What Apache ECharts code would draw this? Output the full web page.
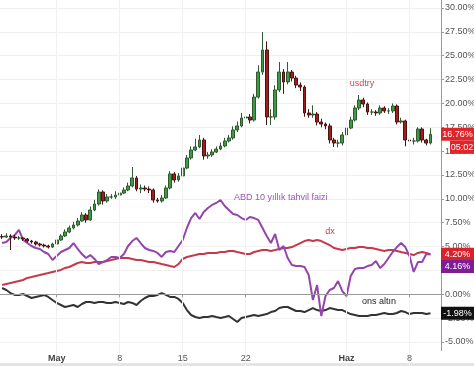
<!DOCTYPE html>
<html><head><meta charset="utf-8">
<script src="https://cdn.jsdelivr.net/npm/echarts@6/dist/echarts.min.js"></script>
<style>html,body{margin:0;padding:0;background:#fff;overflow:hidden}#c{width:474px;height:366px}</style>
</head><body><div id="c"></div>
<script>
// usdtry candles (% change), one bar per third of a trading day
const usdtryClose = [6.00,6.11,6.00,5.90,5.90,5.79,5.58,5.48,5.27,5.16,
 5.06,4.95,5.27,5.69,6.11,6.53,6.95,7.26,7.68,8.31,
 7.79,8.83,9.46,10.72,9.78,10.20,10.20,10.40,10.61,10.93,
 11.35,12.19,11.03,11.14,11.03,10.93,9.88,9.78,10.09,11.14,
 12.61,11.98,12.40,13.23,14.28,15.12,15.44,16.17,14.49,14.60,
 14.91,15.22,15.54,16.06,16.38,17.22,17.64,18.47,18.58,18.26,
 20.67,23.29,25.60,18.58,18.58,21.41,23.29,22.25,23.29,22.66,
 21.93,21.72,19.00,18.79,18.89,18.05,17.84,17.64,16.17,15.85,
 15.85,16.69,17.42,18.26,19.52,20.36,19.94,19.10,19.10,19.00,
 19.52,19.21,19.21,19.73,18.05,18.16,16.17,16.06,16.06,17.32,
 16.17,15.85,16.76];
const usdtryFirstOpen = 6.05;
const usdtryHigh = [6.3,6.4,6.3,6.2,6.1,6.0,5.9,5.7,5.6,5.4,
 5.3,5.2,5.4,5.9,6.3,6.8,7.2,7.6,8.0,8.6,
 8.5,9.2,9.9,11.0,10.9,10.5,10.5,10.8,10.9,11.2,
 11.7,13.34,12.4,11.5,11.4,11.3,11.1,10.1,10.4,11.4,
 12.9,12.8,12.7,13.5,14.6,15.5,16.3,16.69,16.4,14.9,
 15.2,15.5,15.9,16.4,16.7,17.6,18.1,19.0,19.0,18.9,
 21.0,24.0,27.48,26.5,19.4,21.9,24.34,23.6,24.34,23.5,
 22.9,22.2,21.9,19.4,19.8,19.1,18.4,18.0,17.9,16.4,
 16.2,17.0,17.6,18.6,19.8,20.88,20.6,20.1,19.4,19.3,
 19.8,19.7,19.5,20.0,19.9,18.5,18.3,16.4,16.4,17.5,
 17.5,16.3,17.4];
const usdtryLow = [5.8,5.9,4.64,5.7,5.7,5.6,5.4,5.3,5.1,5.0,
 4.9,4.8,4.85,5.2,5.6,6.0,6.4,6.8,7.1,7.6,
 7.5,7.7,8.7,9.3,9.4,9.6,10.0,10.0,10.3,10.5,
 10.8,11.2,10.8,10.6,10.8,10.6,9.6,9.6,9.6,10.0,
 11.0,11.7,11.8,12.3,13.1,14.1,15.0,15.3,14.1,14.2,
 14.4,14.8,15.1,15.4,15.9,16.2,17.0,17.5,18.2,17.9,
 18.1,20.5,23.0,17.74,17.74,18.3,21.2,21.0,22.0,22.3,
 21.6,21.3,18.6,18.5,18.5,17.7,17.5,17.3,15.8,15.44,
 15.4,15.6,16.5,17.3,18.1,19.3,19.6,18.8,18.8,18.7,
 18.8,19.0,18.9,19.0,17.8,17.9,15.5,15.6,15.7,15.9,
 15.9,15.6,15.7];
// ABD 10 yıllık tahvil faizi
const bondYield = [5.37,5.48,5.90,6.21,6.74,5.69,5.37,5.06,4.85,4.75,
 4.43,4.22,3.59,4.01,4.43,4.64,4.85,5.37,4.75,4.22,
 3.80,4.11,3.70,3.17,3.38,3.59,3.91,3.91,3.80,4.22,
 5.06,5.58,5.90,5.37,4.85,4.64,4.54,4.33,3.91,4.43,
 4.54,4.43,5.06,5.69,6.95,7.99,8.52,7.89,8.62,9.04,
 9.36,9.57,9.88,9.25,8.83,8.41,8.31,7.99,7.79,8.10,
 7.99,7.79,6.95,6.11,5.37,6.32,4.64,5.06,3.80,3.07,
 2.96,2.96,2.86,2.02,-0.60,0.97,-2.28,-0.18,0.45,0.66,
 1.39,0.34,-0.18,1.92,2.65,2.75,2.75,2.96,3.07,3.49,
 2.75,3.17,3.80,4.43,4.95,5.37,4.95,4.01,2.34,3.38,
 3.38,4.22,4.16];
// dx
const dxIndex = [0.97,1.08,1.18,1.29,1.39,1.50,1.71,1.81,1.92,2.02,
 2.13,2.23,2.34,2.44,2.55,2.76,2.86,3.07,3.28,3.38,
 3.28,3.28,3.38,3.38,3.38,3.49,3.59,3.70,3.80,3.80,
 3.80,3.70,3.59,3.59,3.49,3.38,3.38,3.28,3.17,3.07,
 2.96,2.86,3.17,3.70,3.91,4.01,4.11,4.22,4.22,4.33,
 4.33,4.33,4.43,4.43,4.54,4.54,4.43,4.33,4.22,4.22,
 4.43,4.54,4.64,4.64,4.54,4.64,4.75,4.85,4.85,4.95,
 5.16,5.37,5.58,5.69,5.58,5.69,5.58,5.37,5.16,4.85,
 4.75,4.64,4.75,4.85,4.85,4.95,4.95,4.85,4.85,4.75,
 4.64,4.54,4.64,4.64,4.54,4.43,4.33,4.22,4.11,4.33,
 4.43,4.33,4.20];
// ons altın
const goldOunce = [0.66,0.45,0.13,-0.07,-0.07,0.03,-0.18,-0.39,-0.28,-0.18,
 -0.07,-0.28,-0.60,-0.91,-1.12,-1.33,-1.23,-1.12,-1.33,-1.02,
 -0.81,-0.81,-0.91,-0.81,-0.81,-0.91,-0.91,-0.81,-0.91,-1.02,
 -0.81,-0.91,-1.12,-0.70,-0.39,-0.18,-0.18,-0.07,0.13,-0.07,
 -0.28,-0.28,-0.49,-0.91,-1.65,-2.17,-2.38,-2.48,-2.38,-2.38,
 -2.27,-2.38,-2.48,-2.38,-2.27,-2.59,-2.90,-2.48,-2.38,-2.27,
 -2.17,-2.27,-2.17,-2.07,-1.86,-1.75,-1.44,-1.33,-1.33,-1.54,
 -1.75,-1.75,-1.86,-1.65,-1.44,-1.65,-1.75,-1.65,-1.44,-1.54,
 -1.65,-1.65,-1.86,-2.07,-2.17,-2.27,-2.27,-2.27,-2.17,-2.17,
 -2.07,-1.96,-2.07,-2.07,-1.96,-1.75,-1.86,-2.07,-1.96,-1.96,
 -1.96,-2.07,-1.98];
const barCount = 105;
const xTickLabels = {13:'May', 28:'8', 43:'15', 58:'22', 82:'Haz', 97:'8'};
const boldLabels = ['May','Haz'];
const yMin = -7.5, yMax = 32.5, yStep = 2.5;
const lastValues = {usdtry:'16.76%', timer:'05:02', dx:'4.20%', bond:'4.16%', gold:'-1.98%'};

const categories = Array.from({length: barCount}, (_, i) => String(i));
const usdtryOpen = [usdtryFirstOpen].concat(usdtryClose.slice(0, -1));
const candles = usdtryClose.map((c, i) => [usdtryOpen[i], c, usdtryLow[i], usdtryHigh[i]]);
const FONT = 'Liberation Sans, Arial, sans-serif';
const isTick = (i) => xTickLabels.hasOwnProperty(i);

const chart = echarts.init(document.getElementById('c'), null, {renderer: 'canvas'});
chart.setOption({
  animation: false,
  backgroundColor: '#fff',
  grid: {left: 0, right: 33, top: -15.86, bottom: 0.14, containLabel: false, outerBoundsMode: 'none'},
  xAxis: {
    type: 'category', data: categories, boundaryGap: true, offset: -16, z: 60,
    axisLine: {lineStyle: {color: '#9a9a9a'}},
    axisTick: {show: true, interval: (i) => isTick(i), alignWithLabel: true, length: 3, lineStyle: {color: '#9a9a9a'}},
    axisLabel: {
      interval: (i) => isTick(i), margin: 4, color: '#555', fontSize: 9, fontFamily: FONT,
      formatter: (v, i) => { const t = xTickLabels[+v]; return boldLabels.includes(t) ? '{b|' + t + '}' : t; },
      rich: {b: {fontWeight: 'bold', fontSize: 9, color: '#444', fontFamily: FONT}}
    },
    splitLine: {show: true, interval: (i) => isTick(i), alignWithLabel: true, lineStyle: {color: '#f0f0f0'}}
  },
  yAxis: {
    type: 'value', position: 'right', min: yMin, max: yMax, interval: yStep,
    axisLine: {show: true, lineStyle: {color: '#9a9a9a'}},
    axisTick: {show: true, length: 3, lineStyle: {color: '#9a9a9a'}},
    axisLabel: {color: '#555', fontSize: 9, fontFamily: FONT, margin: 4, formatter: (v) => v.toFixed(2) + '%'},
    splitLine: {lineStyle: {color: '#f0f0f0'}}
  },
  series: [
    {type: 'line', name: 'ons altın', data: goldOunce, symbol: 'none', lineStyle: {color: '#333', width: 2}, z: 3},
    {type: 'line', name: 'dx', data: dxIndex, symbol: 'none', lineStyle: {color: '#c43a4a', width: 2}, z: 3},
    {type: 'line', name: 'ABD 10 yıllık tahvil faizi', data: bondYield, symbol: 'none', lineStyle: {color: '#9345aa', width: 2}, z: 4},
    {type: 'candlestick', name: 'usdtry', data: candles, barWidth: '80%',
     itemStyle: {color: '#3f9a45', color0: '#a31d1d', borderColor: '#2f5a2f', borderColor0: '#4a1414', borderWidth: 1}, z: 5}
  ]
});

const py = (v) => chart.convertToPixel({yAxisIndex: 0}, v);
const box = (y, w, color, text) => ({
  type: 'group', z: 100, children: [
    {type: 'rect', shape: {x: 474 - w, y: y - 6.5, width: w, height: 13}, style: {fill: color}, z: 100},
    {type: 'text', x: 474 - w / 2, y: y, style: {text: text, fill: '#fff', font: '9px ' + FONT, textAlign: 'center', textVerticalAlign: 'middle'}, z: 101}
  ]
});
const yUsd = py(parseFloat(lastValues.usdtry));
const yDx = py(parseFloat(lastValues.dx));
const yBond = py(parseFloat(lastValues.bond));
const yGold = py(parseFloat(lastValues.gold));
chart.setOption({
  graphic: [
    {type: 'rect', shape: {x: 0, y: 351, width: 474, height: 15}, style: {fill: '#fff'}, z: 50},
    {type: 'rect', shape: {x: 0, y: 363, width: 474, height: 3}, style: {fill: '#e4e4e4'}, z: 51},
    box(yUsd, 33, '#e0242b', lastValues.usdtry),
    box(yUsd + 13, 24, '#e0242b', lastValues.timer),
    box(yDx, 33, '#d8232a', lastValues.dx),
    box(yBond + 12, 33, '#7f1d97', lastValues.bond),
    box(yGold, 33, '#111', lastValues.gold),
    {type: 'text', x: 362, y: 84, z: 90, style: {text: 'usdtry', fill: '#cc4a52', font: '9px ' + FONT, textAlign: 'center', textVerticalAlign: 'middle'}},
    {type: 'text', x: 234, y: 198, z: 90, style: {text: 'ABD 10 yıllık tahvil faizi', fill: '#9b55b5', font: '9px ' + FONT, textAlign: 'left', textVerticalAlign: 'middle'}},
    {type: 'text', x: 330, y: 232, z: 90, style: {text: 'dx', fill: '#c43a4a', font: '9px ' + FONT, textAlign: 'center', textVerticalAlign: 'middle'}},
    {type: 'text', x: 379, y: 302, z: 90, style: {text: 'ons altın', fill: '#222', font: '9px ' + FONT, textAlign: 'center', textVerticalAlign: 'middle'}}
  ]
});
</script></body></html>
